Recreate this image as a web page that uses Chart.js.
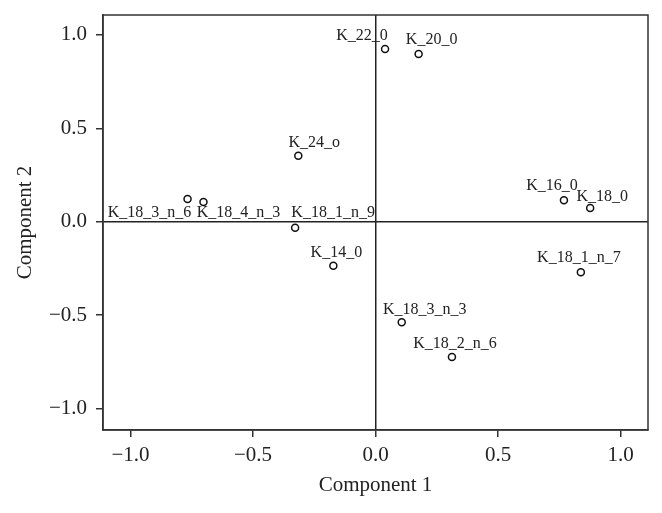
<!DOCTYPE html>
<html>
<head>
<meta charset="utf-8">
<script src="https://cdn.jsdelivr.net/npm/chart.js@4"></script>
<style>
    html, body { margin: 0; padding: 0; background: #fff; }
    #wrap { width: 662px; height: 513px; }
</style>
</head>
<body>
<div id="wrap"><canvas id="chart" width="662" height="513"></canvas></div>
<script>
const names = ['K_22_0', 'K_20_0', 'K_24_o', 'K_18_3_n_6', 'K_18_4_n_3', 'K_18_1_n_9',
    'K_14_0', 'K_16_0', 'K_18_0', 'K_18_1_n_7', 'K_18_3_n_3', 'K_18_2_n_6'];
const comp1 = [0.039, 0.176, -0.315, -0.767, -0.702, -0.328, -0.172, 0.769, 0.876, 0.838, 0.107, 0.312];
const comp2 = [0.925, 0.898, 0.353, 0.122, 0.105, -0.032, -0.236, 0.115, 0.073, -0.271, -0.539, -0.725];
const tickValues = [-1.0, -0.5, 0.0, 0.5, 1.0];

// where each label sits relative to its point (px)
const labelOffsets = [[-23, -13], [13, -14], [16, -13], [-38, 14], [35, 11], [38, -15],
    [3, -13], [-12, -14], [12, -11], [-2, -14], [23, -12], [3, -13]];

const serif = '"Liberation Serif", "DejaVu Serif", serif';
const ink = '#222';

function fmt(v) {
    return v < 0 ? '\u2212' + Math.abs(v).toFixed(1) : v.toFixed(1);
}

const framePlugin = {
    id: 'frame',
    afterDatasetsDraw(chart) {
        const { ctx, chartArea: a } = chart;
        ctx.save();
        ctx.strokeStyle = '#333';
        ctx.lineWidth = 1.5;
        ctx.strokeRect(a.left, a.top, a.right - a.left, a.bottom - a.top);
        ctx.restore();
    }
};

const labelPlugin = {
    id: 'pointLabels',
    afterDatasetsDraw(chart) {
        const { ctx } = chart;
        const xs = chart.scales.x, ys = chart.scales.y;
        ctx.save();
        ctx.font = '16px ' + serif;
        ctx.fillStyle = ink;
        ctx.textAlign = 'center';
        ctx.textBaseline = 'middle';
        names.forEach((n, i) => {
            const px = xs.getPixelForValue(comp1[i]) + labelOffsets[i][0];
            const py = ys.getPixelForValue(comp2[i]) + labelOffsets[i][1];
            ctx.fillText(n, px, py);
        });
        ctx.restore();
    }
};

function axisGrid() {
    return {
        drawOnChartArea: true,
        color: ctx => (ctx.tick && ctx.tick.value === 0) ? '#222' : 'rgba(0,0,0,0)',
        lineWidth: 1.5,
        tickColor: '#333',
        tickLength: 7,
        tickWidth: 1.5
    };
}

new Chart(document.getElementById('chart').getContext('2d'), {
    type: 'scatter',
    data: {
        datasets: [{
            data: comp1.map((x, i) => ({ x: x, y: comp2[i] })),
            pointRadius: 3.5,
            pointBorderWidth: 1.5,
            pointBorderColor: '#111',
            pointBackgroundColor: '#fff',
            pointHoverRadius: 3.5
        }]
    },
    options: {
        responsive: false,
        animation: false,
        layout: { padding: { top: 15, right: 14, left: 0, bottom: 0 } },
        plugins: {
            legend: { display: false },
            tooltip: { enabled: false }
        },
        scales: {
            x: {
                type: 'linear',
                min: -1.112,
                max: 1.112,
                afterBuildTicks: s => { s.ticks = tickValues.map(v => ({ value: v })); },
                afterFit: s => { s.height = 83; s.paddingLeft = 0; s.paddingRight = 0; },
                grid: axisGrid(),
                border: { display: true, color: '#333', width: 1.5 },
                ticks: {
                    color: ink,
                    font: { family: serif, size: 21 },
                    padding: 6,
                    maxRotation: 0,
                    callback: v => fmt(v)
                },
                title: {
                    display: true,
                    text: 'Component 1',
                    color: ink,
                    font: { family: serif, size: 21 },
                    padding: { top: 4, bottom: 15 }
                }
            },
            y: {
                type: 'linear',
                min: -1.116,
                max: 1.107,
                afterBuildTicks: s => { s.ticks = tickValues.map(v => ({ value: v })); },
                afterFit: s => { s.width = 103; s.paddingTop = 0; s.paddingBottom = 0; },
                grid: axisGrid(),
                border: { display: true, color: '#333', width: 1.5 },
                ticks: {
                    color: ink,
                    font: { family: serif, size: 21 },
                    padding: 9,
                    callback: v => fmt(v)
                },
                title: {
                    display: true,
                    text: 'Component 2',
                    color: ink,
                    font: { family: serif, size: 21 },
                    padding: { top: 13, bottom: 0 }
                }
            }
        }
    },
    plugins: [framePlugin, labelPlugin]
});
</script>
</body>
</html>
